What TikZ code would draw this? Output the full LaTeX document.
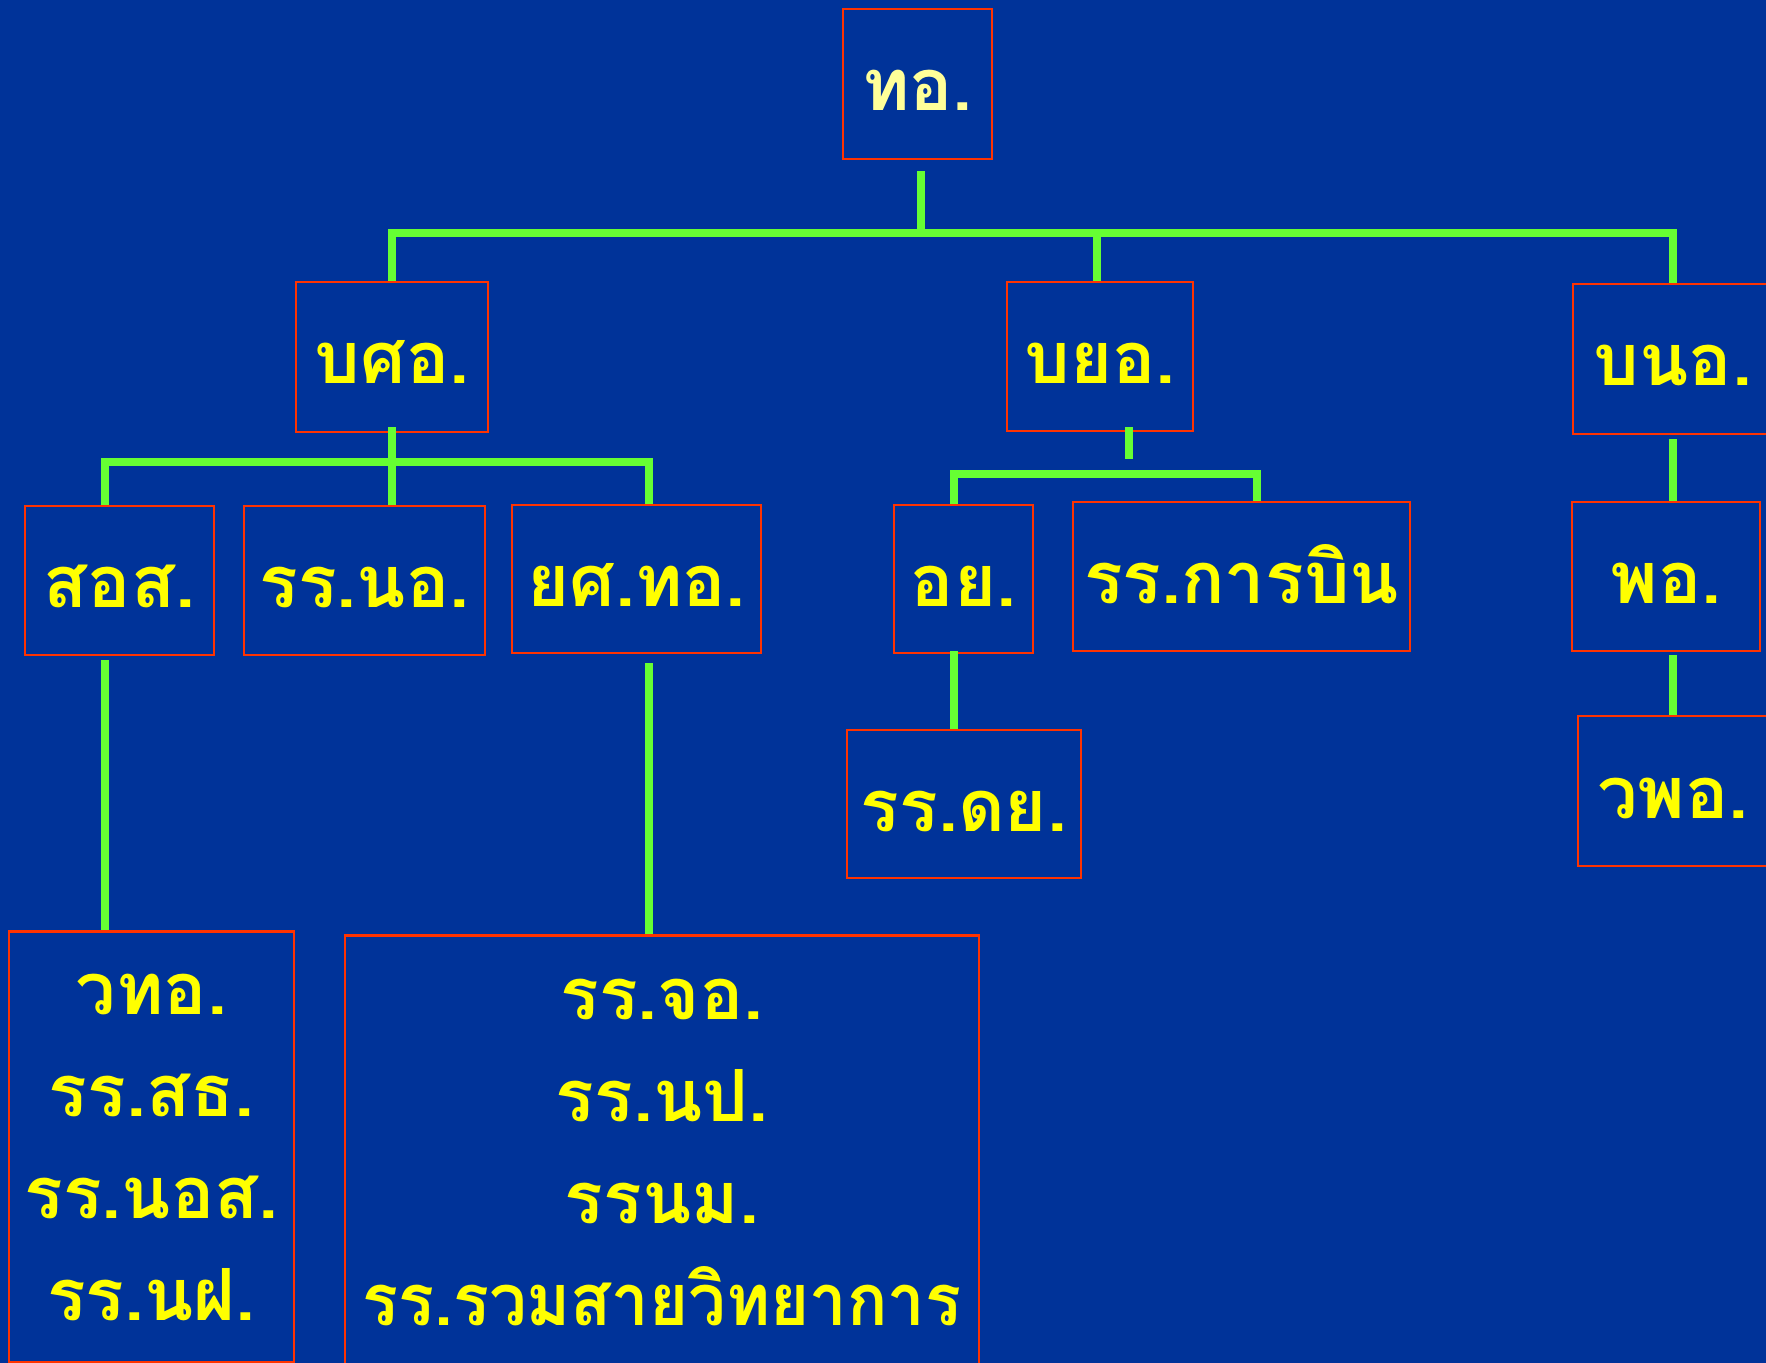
\documentclass[tikz,border=0pt]{standalone}
\usepackage{fontspec}
\newfontfamily\thaifont[Script=Thai]{Loma}
\definecolor{bgblue}{RGB}{0,51,153}
\definecolor{lgreen}{RGB}{102,255,51}
\definecolor{bred}{RGB}{255,51,0}
\definecolor{tyellow}{RGB}{255,255,0}
\definecolor{pyellow}{RGB}{255,255,153}
\begin{document}
\begin{tikzpicture}[x=0.5pt,y=-0.5pt,
  box/.style={draw=bred,line width=1.2pt,fill=bgblue,text=tyellow,inner sep=0pt,
    font=\thaifont\bfseries\fontsize{36pt}{51pt}\selectfont,align=center},
  one/.style={box,text height=27pt,text depth=0pt},
  conn/.style={draw=lgreen,line width=4pt,line cap=butt,line join=miter}]
\useasboundingbox (0,0) rectangle (1766,1363);
\fill[bgblue] (0,0) rectangle (1766,1363);
% boxes
\node[one,text=pyellow,minimum width=74.5pt,minimum height=75pt] (top) at (917.5,84) {ทอ.};
\node[one,minimum width=96pt,minimum height=75pt] (bso) at (392,357) {บศอ.};
\node[one,minimum width=93pt,minimum height=74.5pt] (byo) at (1100,356.5) {บยอ.};
\node[one,minimum width=100pt,minimum height=75pt] (bno) at (1673,359) {บนอ.};
\node[one,minimum width=94.5pt,minimum height=74.5pt] (sos) at (119.5,580.5) {สอส.};
\node[one,minimum width=120.5pt,minimum height=74.5pt] (rrno) at (364.5,580.5) {รร.นอ.};
\node[one,minimum width=124.5pt,minimum height=74pt] (yst) at (636.5,579) {ยศ.ทอ.};
\node[one,minimum width=69.5pt,minimum height=74pt] (oy) at (963.5,579) {อย.};
\node[one,minimum width=168.5pt,minimum height=74.5pt] (rrkan) at (1241.5,576.5) {รร.การบิน};
\node[one,minimum width=94pt,minimum height=74.5pt] (pho) at (1666,576.5) {พอ.};
\node[one,minimum width=117pt,minimum height=74pt] (rrdy) at (964,804) {รร.ดย.};
\node[one,minimum width=95pt,minimum height=75pt] (wpho) at (1673,791) {วพอ.};
\node[box,minimum width=142.5pt,minimum height=215.5pt] (wto) at (151.5,1147) {วทอ.\\รร.สธ.\\รร.นอส.\\รร.นฝ.};
\node[box,minimum width=317pt,minimum height=216.5pt,text width=317pt] (big) at (662,1152) {รร.จอ.\\รร.นป.\\รรนม.\\\scalebox{0.93}[1]{รร.รวมสายวิทยาการ}};
% helper coordinates
\coordinate (bus) at (0,233);
\coordinate (bus2) at (0,462);
\coordinate (bus3) at (0,474);
\coordinate (d0) at ([xshift=1.75pt]top.south);
\coordinate (d2) at ([xshift=-1.5pt]byo.north);
\coordinate (d1) at ([xshift=-7.25pt]sos.north);
\coordinate (d3) at ([xshift=6.25pt]yst.north);
\coordinate (d4) at ([xshift=-4.75pt]oy.north);
\coordinate (d5) at ([xshift=7.75pt]rrkan.north);
\coordinate (s2) at ([xshift=14.5pt]byo.south);
% connectors
\draw[conn] (d0) ++(0,11) -- (d0 |- bus);
\draw[conn] (bso.north) |- (bno.north |- bus) -- (bno.north);
\draw[conn] (d2) -- (d2 |- bus);
\draw[conn] (bso.south) ++(0,-6) -- (bso.south |- rrno.north);
\draw[conn] (d1) |- (d3 |- bus2) -- (d3);
\draw[conn] (s2) ++(0,-5) -- ++(0,32);
\draw[conn] (d4) |- (d5 |- bus3) -- (d5);
\draw[conn] (bno.south) ++(0,4) -- (bno.south |- pho.north);
\draw[conn] (wpho.north |- pho.south) ++(0,3) -- (wpho.north);
\draw[conn] (d4 |- oy.south) ++(0,-3) -- (d4 |- rrdy.north);
\draw[conn] (d1 |- sos.south) ++(0,4) -- (d1 |- wto.north);
\draw[conn] (d3 |- yst.south) ++(0,9) -- (d3 |- big.north);
\end{tikzpicture}
\end{document}
